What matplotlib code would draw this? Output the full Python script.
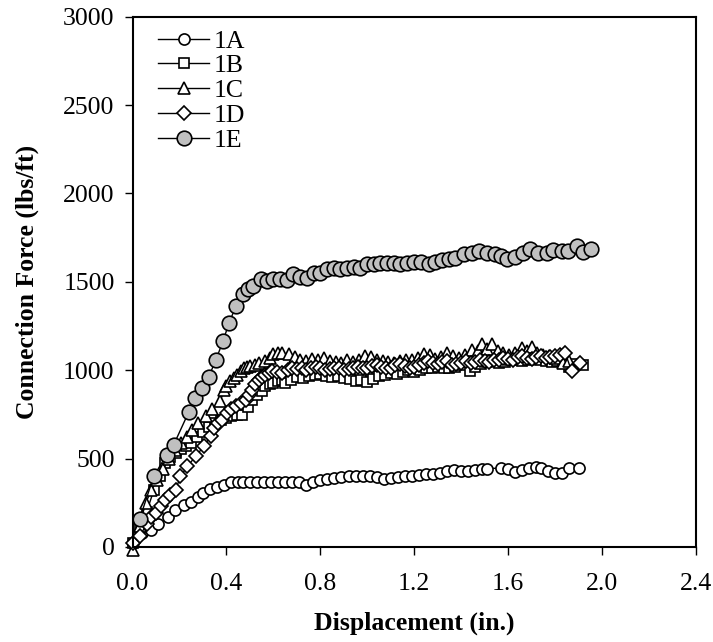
import numpy as np
import matplotlib
matplotlib.use('Agg')
import matplotlib.pyplot as plt
from matplotlib.ticker import FormatStrFormatter

plt.rcParams['font.family'] = ['Liberation Serif', 'DejaVu Serif']

# series 1A (open circles)
x_1a = [0.0, 0.04, 0.08, 0.11, 0.15, 0.18, 0.22, 0.25, 0.28, 0.30,
        0.33, 0.36, 0.39, 0.42, 0.45, 0.47, 0.50, 0.53, 0.56, 0.59,
        0.62, 0.65, 0.68, 0.71, 0.74, 0.77, 0.80, 0.83, 0.86, 0.89,
        0.92, 0.95, 0.98, 1.01, 1.04, 1.07, 1.10, 1.13, 1.16, 1.19,
        1.22, 1.25, 1.28, 1.31, 1.34, 1.37, 1.40, 1.43, 1.46, 1.49,
        1.51, 1.57, 1.60, 1.63, 1.66, 1.69, 1.72, 1.74, 1.77, 1.80,
        1.83, 1.86, 1.90]
y_1a = [20, 78, 96, 130, 168, 210, 238, 257, 282, 305,
        327, 342, 352, 365, 370, 370, 368, 368, 369, 369,
        368, 366, 366, 368, 352, 370, 380, 386, 390, 395,
        399, 399, 400, 399, 396, 384, 392, 396, 399, 400,
        405, 415, 412, 418, 430, 433, 430, 432, 438, 441,
        444, 446, 440, 425, 437, 445, 455, 448, 430, 418,
        421, 446, 446]

# series 1B (open squares)
x_1b = [0.0, 0.03, 0.06, 0.09, 0.115, 0.14, 0.16, 0.183, 0.205, 0.226,
        0.25, 0.275, 0.30, 0.325, 0.35, 0.375, 0.396, 0.42, 0.445, 0.467,
        0.49, 0.51, 0.53, 0.55, 0.566, 0.585, 0.60, 0.62, 0.637, 0.651,
        0.675, 0.70, 0.725, 0.75, 0.775, 0.80, 0.825, 0.85, 0.875, 0.90,
        0.925, 0.95, 0.975, 1.0, 1.025, 1.05, 1.075, 1.10, 1.125, 1.15,
        1.175, 1.20, 1.225, 1.25, 1.275, 1.30, 1.325, 1.35, 1.375, 1.40,
        1.438, 1.46, 1.485, 1.51, 1.535, 1.56, 1.585, 1.61, 1.635, 1.66,
        1.685, 1.71, 1.735, 1.76, 1.785, 1.81, 1.835, 1.86, 1.89, 1.92]
y_1b = [25, 110, 200, 320, 400, 475, 510, 531, 555, 569,
        590, 620, 650, 680, 700, 720, 730, 740, 745, 749,
        790, 830, 860, 885, 909, 920, 930, 940, 947, 925,
        945, 960, 955, 965, 975, 980, 970, 960, 965, 955,
        950, 940, 945, 935, 950, 965, 975, 985, 980, 990,
        1000, 990, 1000, 1010, 1015, 1020, 1015, 1010, 1020, 1030,
        994, 1020, 1035, 1045, 1050, 1040, 1045, 1055, 1060, 1050,
        1060, 1065, 1055, 1050, 1045, 1050, 1040, 1020, 1035, 1030]

# series 1C (open triangles)
x_1c = [0.0, 0.03, 0.055, 0.08, 0.105, 0.13, 0.155, 0.18, 0.205, 0.23,
        0.254, 0.28, 0.311, 0.34, 0.374, 0.389, 0.40, 0.417, 0.43, 0.445,
        0.46, 0.474, 0.488, 0.502, 0.52, 0.54, 0.566, 0.585, 0.60, 0.618,
        0.637, 0.665, 0.69, 0.715, 0.74, 0.765, 0.79, 0.815, 0.84, 0.865,
        0.89, 0.915, 0.94, 0.965, 0.99, 1.015, 1.04, 1.065, 1.09, 1.115,
        1.14, 1.165, 1.19, 1.215, 1.24, 1.265, 1.29, 1.315, 1.339, 1.365,
        1.39, 1.415, 1.445, 1.47, 1.488, 1.51, 1.53, 1.555, 1.58, 1.605,
        1.63, 1.658, 1.68, 1.70, 1.725, 1.75, 1.775, 1.80, 1.835, 1.86]
y_1c = [-15, 120, 248, 320, 380, 440, 500, 550, 590, 620,
        664, 700, 739, 780, 824, 890, 910, 937, 955, 975,
        995, 1013, 1020, 1026, 1030, 1040, 1051, 1070, 1089, 1095,
        1098, 1089, 1075, 1060, 1050, 1065, 1055, 1070, 1050, 1045,
        1040, 1055, 1045, 1060, 1080, 1075, 1060, 1050, 1045, 1040,
        1050, 1060, 1055, 1070, 1090, 1085, 1065, 1075, 1098, 1080,
        1070, 1085, 1117, 1110, 1146, 1120, 1146, 1110, 1095, 1085,
        1100, 1127, 1110, 1132, 1100, 1085, 1080, 1070, 1042, 1050]

# series 1D (open diamonds)
x_1d = [0.0, 0.03, 0.06, 0.08, 0.098, 0.12, 0.14, 0.16, 0.183, 0.204,
        0.233, 0.268, 0.303, 0.332, 0.346, 0.365, 0.382, 0.403, 0.42, 0.44,
        0.46, 0.481, 0.495, 0.509, 0.523, 0.537, 0.552, 0.566, 0.58, 0.594,
        0.615, 0.637, 0.66, 0.68, 0.70, 0.72, 0.74, 0.76, 0.78, 0.80,
        0.82, 0.84, 0.86, 0.88, 0.90, 0.92, 0.94, 0.96, 0.98, 1.00,
        1.02, 1.04, 1.06, 1.08, 1.10, 1.12, 1.14, 1.16, 1.18, 1.20,
        1.22, 1.24, 1.26, 1.28, 1.30, 1.32, 1.34, 1.36, 1.38, 1.40,
        1.42, 1.44, 1.46, 1.48, 1.50, 1.52, 1.54, 1.56, 1.58, 1.60,
        1.62, 1.64, 1.66, 1.68, 1.70, 1.72, 1.74, 1.76, 1.78, 1.80,
        1.82, 1.843, 1.871, 1.906]
y_1d = [21, 60, 130, 170, 191, 230, 267, 295, 323, 399,
        456, 512, 569, 626, 673, 700, 720, 758, 780, 800,
        815, 834, 860, 890, 920, 947, 960, 975, 985, 994,
        990, 985, 1000, 1013, 1005, 1010, 1000, 1015, 1020, 1010,
        1000, 1005, 1015, 1010, 1000, 1005, 1010, 1020, 1015, 1010,
        1025, 1030, 1020, 1010, 1015, 1030, 1035, 1025, 1015, 1020,
        1030, 1040, 1050, 1040, 1035, 1045, 1050, 1030, 1035, 1040,
        1050, 1040, 1045, 1060, 1050, 1045, 1055, 1060, 1070, 1065,
        1060, 1075, 1080, 1070, 1065, 1075, 1080, 1070, 1075, 1080,
        1085, 1098, 994, 1042]

# series 1E (grey filled circles)
x_1e = [0.03, 0.09, 0.145, 0.175, 0.24, 0.265, 0.295, 0.325, 0.355,
        0.385, 0.41, 0.44, 0.47, 0.49, 0.515, 0.545, 0.573, 0.60, 0.63,
        0.658, 0.684, 0.715, 0.743, 0.772, 0.80, 0.828, 0.857, 0.885, 0.914,
        0.942, 0.97, 0.999, 1.027, 1.055, 1.084, 1.112, 1.14, 1.168, 1.197,
        1.23, 1.261, 1.29, 1.318, 1.346, 1.374, 1.41, 1.445, 1.474, 1.509,
        1.545, 1.57, 1.594, 1.63, 1.665, 1.694, 1.729, 1.765, 1.793, 1.828,
        1.857, 1.892, 1.921, 1.953]
y_1e = [159, 400, 522, 578, 766, 845, 902, 964, 1060,
        1163, 1265, 1361, 1429, 1457, 1474, 1514, 1505, 1518, 1518,
        1510, 1543, 1529, 1524, 1552, 1552, 1575, 1580, 1575, 1580,
        1586, 1580, 1599, 1599, 1605, 1609, 1605, 1599, 1605, 1612,
        1610, 1599, 1612, 1624, 1630, 1637, 1656, 1665, 1675, 1662,
        1656, 1645, 1631, 1641, 1665, 1684, 1665, 1665, 1680, 1675,
        1675, 1700, 1670, 1684]

fig = plt.figure(figsize=(7.13, 6.42), dpi=100)
ax = fig.add_axes([0.186, 0.148, 0.790, 0.826])

common = dict(color='black', linewidth=1.0, markeredgecolor='black',
              markeredgewidth=1.2, clip_on=False)
ax.plot(x_1a, y_1a, marker='o', markersize=8, markerfacecolor='white', label='1A', **common)
ax.plot(x_1b, y_1b, marker='s', markersize=7.5, markerfacecolor='white', label='1B', **common)
ax.plot(x_1c, y_1c, marker='^', markersize=8, markerfacecolor='white', label='1C', **common)
ax.plot(x_1d, y_1d, marker='D', markersize=7, markerfacecolor='white', label='1D', **common)
ax.plot(x_1e, y_1e, marker='o', markersize=10.5, markerfacecolor='#c0c0c0', label='1E', **common)

ax.set_xlim(0, 2.4)
ax.set_ylim(0, 3000)
ax.set_xticks([0.0, 0.4, 0.8, 1.2, 1.6, 2.0, 2.4])
ax.set_yticks([0, 500, 1000, 1500, 2000, 2500, 3000])
ax.xaxis.set_major_formatter(FormatStrFormatter('%.1f'))
ax.tick_params(direction='out', length=6, width=1, labelsize=18.5)
ax.tick_params(axis='x', pad=13)
ax.tick_params(axis='y', pad=7)
for s in ax.spines.values():
    s.set_linewidth(1.5)

ax.set_xlabel('Displacement (in.)', fontsize=18.5, fontweight='bold', labelpad=12)
ax.set_ylabel('Connection Force (lbs/ft)', fontsize=18.5, fontweight='bold', labelpad=17)

leg = ax.legend(loc='upper left', frameon=False, fontsize=18.5, handlelength=2.0,
                handletextpad=0.15, labelspacing=0.07, borderaxespad=0.0,
                bbox_to_anchor=(0.027, 0.995))

plt.savefig('out.png', dpi=100)
